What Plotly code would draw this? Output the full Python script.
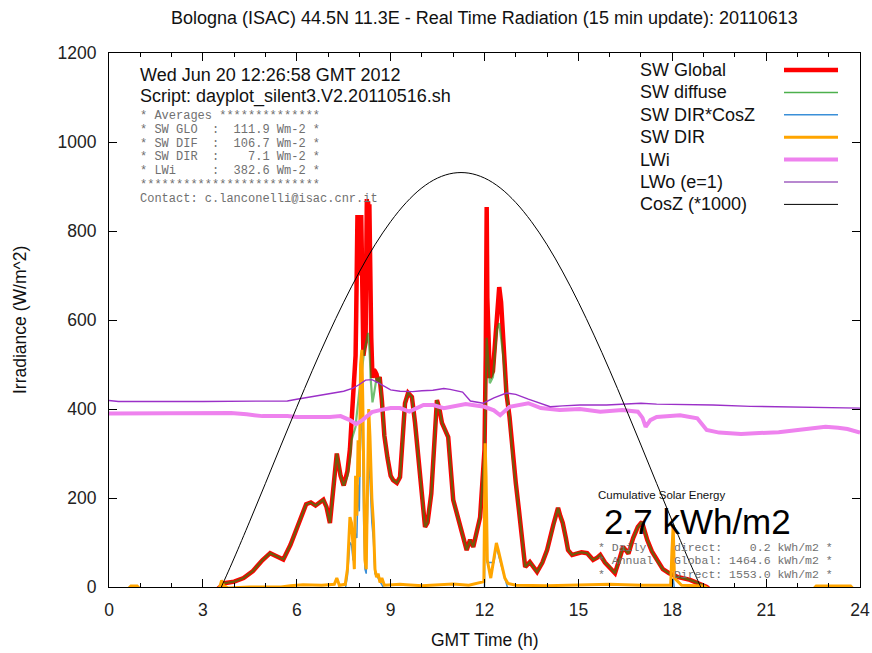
import plotly.graph_objects as go

# ---------------- data (time in hours GMT, irradiance in W/m^2) ----------------
t_sw = [0.00, 3.45, 3.55, 3.64, 4.00, 4.30, 4.60, 4.90, 5.15, 5.35, 5.57,
        5.80, 6.10, 6.30, 6.45, 6.60, 6.85, 6.95, 7.06, 7.18, 7.28,
        7.40, 7.50, 7.62, 7.70, 7.75, 7.80, 7.85, 7.88, 7.90, 7.92, 7.94,
        7.96, 7.98, 8.00, 8.02, 8.04, 8.06, 8.08, 8.10, 8.13, 8.16,
        8.20, 8.22, 8.24, 8.26, 8.28, 8.30, 8.32, 8.34, 8.36, 8.38,
        8.42, 8.46, 8.50, 8.55, 8.60, 8.65, 8.72, 8.80, 8.90, 9.00,
        9.08, 9.20, 9.30, 9.46, 9.56, 9.68, 9.78, 9.94, 10.10, 10.18,
        10.30, 10.48, 10.56, 10.64, 10.84, 11.00, 11.20, 11.43, 11.54, 11.64,
        11.86, 12.00, 12.04, 12.07, 12.09, 12.12, 12.17, 12.27, 12.40, 12.47,
        12.53, 12.60, 12.70, 12.80, 12.90, 13.00, 13.10, 13.30, 13.45, 13.68,
        13.85, 14.00, 14.20, 14.35, 14.42, 14.50, 14.60, 14.67, 14.80, 14.95,
        15.10, 15.28, 15.47, 15.60, 15.70, 15.85, 16.00, 16.17, 16.30, 16.43,
        16.60, 16.75, 16.90, 17.03, 17.10, 17.20, 17.35, 17.50, 17.70, 17.90,
        18.20, 18.57, 19.00, 19.10, 19.20, 24.00]

sw_diffuse = [-6, -6, 0, 8, 12, 20, 36, 60, 76, 70, 62,
              95, 150, 186, 190, 183, 196, 180, 144, 230, 300,
              250, 228, 250, 290, 330, 340, 355, 360, 375, 390, 410,
              420, 430, 440, 450, 465, 480, 490, 500, 515, 530,
              545, 555, 560, 565, 571, 560, 540, 510, 470, 440,
              415, 430, 450, 470, 460, 472, 420, 340, 290, 250,
              240, 234, 247, 413, 436, 427, 369, 256, 135, 145,
              210, 420, 400, 369, 337, 196, 144, 83, 106, 90,
              157, 308, 450, 560, 540, 500, 458, 472, 580, 593,
              560, 520, 436, 382, 292, 234, 173, 45, 56, 34,
              55, 83, 140, 178, 160, 144, 110, 83, 72, 76,
              78, 76, 61, 66, 72, 55, 45, 31, 60, 90,
              75, 110, 135, 146, 130, 106, 80, 61, 40, 31,
              22, 16, 4, 0, -6, -6]

sw_global = [-6, -6, 0, 8, 12, 20, 36, 60, 76, 70, 62,
             95, 150, 186, 190, 183, 196, 180, 144, 230, 300,
             250, 228, 260, 310, 370, 440, 470, 520, 610, 760, 836,
             700, 830, 720, 820, 760, 836, 690, 580, 520, 535,
             550, 720, 872, 800, 866, 820, 860, 720, 640, 560,
             470, 488, 485, 478, 460, 472, 420, 340, 290, 250,
             240, 234, 247, 413, 436, 427, 369, 256, 135, 145,
             210, 420, 400, 369, 337, 196, 144, 83, 106, 90,
             157, 308, 520, 854, 650, 560, 470, 485, 620, 674,
             640, 555, 436, 382, 292, 234, 173, 45, 56, 34,
             55, 83, 140, 178, 160, 144, 110, 83, 72, 76,
             78, 76, 61, 66, 72, 55, 45, 31, 60, 90,
             75, 110, 135, 146, 130, 106, 80, 61, 40, 31,
             22, 16, 4, 0, -6, -6]

t_dir = [0.00, 0.60, 0.70, 0.90, 1.00, 3.50, 3.56, 3.60, 3.66, 3.80,
         4.50, 5.50, 5.80, 6.20, 6.80, 7.20, 7.28, 7.36, 7.55, 7.62,
         7.70, 7.75, 7.80, 7.84, 7.88, 7.92, 7.96, 8.00, 8.04, 8.08,
         8.11, 8.14, 8.18, 8.22, 8.26, 8.30, 8.34, 8.40, 8.45, 8.50,
         8.55, 8.60, 8.66, 8.72, 8.80, 9.30, 9.50, 10.00, 11.00, 11.50,
         11.98, 12.02, 12.05, 12.09, 12.20, 12.30, 12.38, 12.45, 12.55, 12.65,
         12.75, 13.00, 14.00, 15.00, 16.00, 17.00, 17.95, 17.99, 18.03, 18.07,
         18.30, 19.00, 19.20, 22.50, 22.60, 23.70, 23.80, 24.00]
sw_dir = [-5, -5, 2, 2, -5, -5, 4, 15, 3, -2,
          0, 0, 3, 5, 4, 6, 20, 4, 6, 40,
          157, 144, 90, 40, 250, 160, 330, 247, 500, 533,
          420, 200, 60, 40, 250, 400, 337, 200, 144, 40,
          22, 30, 10, 20, 4, 6, 5, 3, 7, 4,
          12, 323, 250, 60, 20, 60, 99, 80, 50, 20,
          8, 4, 3, 4, 6, 4, 4, 80, 140, 20,
          4, 2, -5, -5, 2, 2, -5, -5]

t_dcz = [0.00, 7.55, 7.62, 7.70, 7.75, 7.80, 7.84, 7.88, 7.92, 7.96,
         8.00, 8.04, 8.08, 8.11, 8.14, 8.18, 8.22, 8.26, 8.30, 8.34,
         8.40, 8.45, 8.50, 8.60, 8.80, 12.00, 12.02, 12.05, 12.09, 12.30,
         12.38, 12.55, 12.75, 17.95, 18.03, 18.07, 18.30, 24.00]
sw_dir_cosz = [-5, -5, 25, 100, 95, 60, 70, 120, 110, 230,
               170, 350, 380, 300, 140, 40, 30, 180, 290, 240,
               145, 105, 30, 20, -5, -5, 300, 232, 55, 55,
               90, 45, -5, -5, 20, -5, -5, -5]

t_lwi = [0.0, 2.0, 3.0, 3.9, 4.4, 4.9, 5.7, 6.0, 7.06, 7.4,
         7.7, 7.9, 8.1, 8.4, 8.7, 9.0, 9.3, 9.6, 10.05, 10.36,
         10.7, 11.0, 11.4, 12.0, 12.3, 12.5, 12.8, 13.4, 13.8, 14.4,
         15.05, 15.7, 16.4, 16.9, 17.05, 17.15, 17.3, 17.5, 18.25, 18.8,
         19.1, 19.5, 20.2, 21.4, 22.3, 22.9, 23.3, 23.6, 24.0]
lw_in = [390, 390, 389, 391, 388, 384, 384, 382, 382, 384,
         375, 366, 375, 393, 398, 402, 402, 394, 409, 409,
         402, 405, 411, 405, 397, 386, 405, 413, 402, 398,
         400, 394, 398, 394, 380, 360, 375, 382, 386, 379,
         353, 347, 344, 348, 355, 360, 358, 355, 347]

t_lwo = [0.0, 0.3, 3.0, 5.7, 6.0, 6.5, 7.06, 7.5, 7.8, 8.0,
         8.2, 8.4, 8.55, 8.8, 9.0, 9.3, 9.7, 10.0, 10.35, 10.7,
         10.9, 11.3, 11.55, 11.96, 12.3, 12.7, 13.0, 13.4, 13.8, 14.1,
         14.5, 15.05, 15.9, 16.5, 17.0, 17.5, 18.5, 19.3, 20.5, 21.4,
         22.5, 23.9, 24.0]
lw_out = [419, 417, 417, 418, 422, 428, 434, 440, 447, 455,
          465, 466, 461, 450, 443, 440, 439, 441, 442, 446,
          444, 438, 418, 413, 425, 436, 433, 422, 413, 405,
          407, 409, 409, 411, 413, 411, 410, 409, 406, 405,
          404, 402, 402]

t_cosz = [3.59, 3.75, 4.0, 4.5, 5.0, 5.5, 6.0, 6.5, 7.0, 7.5,
          8.0, 8.5, 9.0, 9.5, 10.0, 10.5, 11.0, 11.5, 12.0, 12.5,
          13.0, 13.5, 14.0, 14.5, 15.0, 15.5, 16.0, 16.5, 17.0, 17.5,
          18.0, 18.5, 18.75, 18.91]
cosz_1000 = [0, 25, 65, 148, 233, 319, 404, 487, 566, 640,
             708, 769, 821, 864, 897, 919, 930, 930, 919, 897,
             864, 821, 769, 708, 640, 566, 487, 404, 319, 233,
             148, 65, 25, 0]

x_ticks = [0, 3, 6, 9, 12, 15, 18, 21, 24]
y_ticks = [0, 200, 400, 600, 800, 1000, 1200]

legend_labels = ["SW Global", "SW diffuse", "SW DIR*CosZ", "SW DIR",
                 "LWi", "LWo (e=1)", "CosZ (*1000)"]

averages_lines = ["* Averages **************",
                  "* SW GLO  :  111.9 Wm-2 *",
                  "* SW DIF  :  106.7 Wm-2 *",
                  "* SW DIR  :    7.1 Wm-2 *",
                  "* LWi     :  382.6 Wm-2 *",
                  "*************************",
                  "Contact: c.lanconelli@isac.cnr.it"]

energy_total = "2.7 kWh/m2"
energy_lines = ["* Daily    direct:    0.2 kWh/m2 *",
                "* Annual   Global: 1464.6 kWh/m2 *",
                "*          Direct: 1553.0 kWh/m2 *"]

# ---------------- geometry helpers (pixel -> paper) ----------------
FIG_W, FIG_H = 872, 653
L, R, T, B = 109, 860, 53, 587


def px(x):
    return (x - L) / (R - L)


def py(y):
    return (B - y) / (B - T)


SANS = "Liberation Sans, Arial, sans-serif"
MONO = "Liberation Mono, Courier New, monospace"

series_styles = [
    ("#ff0000", 4.5),               # SW Global
    ("rgba(20,150,20,0.6)", 2.2),   # SW diffuse
    ("#3a8fd8", 1.5),               # SW DIR*CosZ
    ("#ffa500", 3.0),               # SW DIR
    ("#ee82ee", 4.0),               # LWi
    ("#9b30c8", 1.4),               # LWo
    ("#000000", 1.0),               # CosZ
]
legend_colors = ["#ff0000", "#4cb04c", "#3a8fd8", "#ffa500",
                 "#ee82ee", "#a060c0", "#000000"]
legend_widths = [4.5, 1.5, 1.5, 3.0, 4.0, 1.5, 1.0]

fig = go.Figure()
series = [(t_sw, sw_global), (t_sw, sw_diffuse), (t_dcz, sw_dir_cosz),
          (t_dir, sw_dir), (t_lwi, lw_in), (t_lwo, lw_out),
          (t_cosz, cosz_1000)]
for (xs, ys), name, (col, w) in zip(series, legend_labels, series_styles):
    fig.add_trace(go.Scatter(
        x=xs, y=ys, mode="lines", name=name, showlegend=False,
        line=dict(color=col, width=w,
                  shape="spline" if name.startswith("CosZ") else "linear"),
        hoverinfo="skip"))

annotations = []
shapes = []


def text(s, x, y, size, color="#111", family=SANS, anchor="left", angle=0):
    annotations.append(dict(
        text=s, x=x, y=y, xref="paper", yref="paper", showarrow=False,
        xanchor=anchor, yanchor="middle", textangle=angle,
        borderpad=0, borderwidth=0,
        font=dict(family=family, size=size, color=color)))


def mono(s):
    return s.replace(" ", "&nbsp;")


# title and axis titles
text("Bologna (ISAC) 44.5N 11.3E - Real Time Radiation (15 min update): 20110613",
     0.5, py(18), 18, anchor="center")
text("GMT Time (h)", 0.5, py(640), 17.5, anchor="center")
text("Irradiance (W/m^2)", px(20), py(320), 17.5, anchor="center", angle=-90)

# header info, top left
text("Wed Jun 20 12:26:58 GMT 2012", px(140), py(75), 18)
text("Script: dayplot_silent3.V2.20110516.sh", px(140), py(97), 18)
for i, line in enumerate(averages_lines):
    text(mono(line), px(140), py(116 + 13.8 * i), 12,
         color="#707070", family=MONO)

# legend, top right
for i, (lab, col, w) in enumerate(zip(legend_labels, legend_colors,
                                       legend_widths)):
    yy = py(70 + 22.4 * i)
    text(lab, px(640), yy, 18)
    shapes.append(dict(type="line", xref="paper", yref="paper",
                       x0=px(784), x1=px(838), y0=yy, y1=yy,
                       line=dict(color=col, width=w)))

# cumulative energy block, bottom right
text("Cumulative Solar Energy", px(598), py(494.5), 11.5)
text(energy_total, px(604), py(521.5), 35, color="#000")
for i, line in enumerate(energy_lines):
    text(mono(line), px(598), py(547.5 + 13.3 * i), 11.5,
         color="#707070", family=MONO)

axis_common = dict(
    showline=True, linecolor="black", linewidth=1, mirror="allticks",
    ticks="inside", ticklen=8, tickwidth=1, tickcolor="black",
    showgrid=False, zeroline=False, automargin=False,
    tickfont=dict(family=SANS, size=17.5, color="#222"))

fig.update_layout(
    width=FIG_W, height=FIG_H,
    margin=dict(l=L, r=FIG_W - R, t=T, b=FIG_H - B, pad=0),
    plot_bgcolor="white", paper_bgcolor="white",
    xaxis=dict(range=[0, 24], tickvals=x_ticks, ticklabelstandoff=7,
               minor=dict(dtick=1, ticks="inside", ticklen=4,
                          tickcolor="black"),
               **axis_common),
    yaxis=dict(range=[0, 1200], tickvals=y_ticks, ticklabelstandoff=8,
               **axis_common),
    annotations=annotations, shapes=shapes,
)

fig.write_html("out.html")
